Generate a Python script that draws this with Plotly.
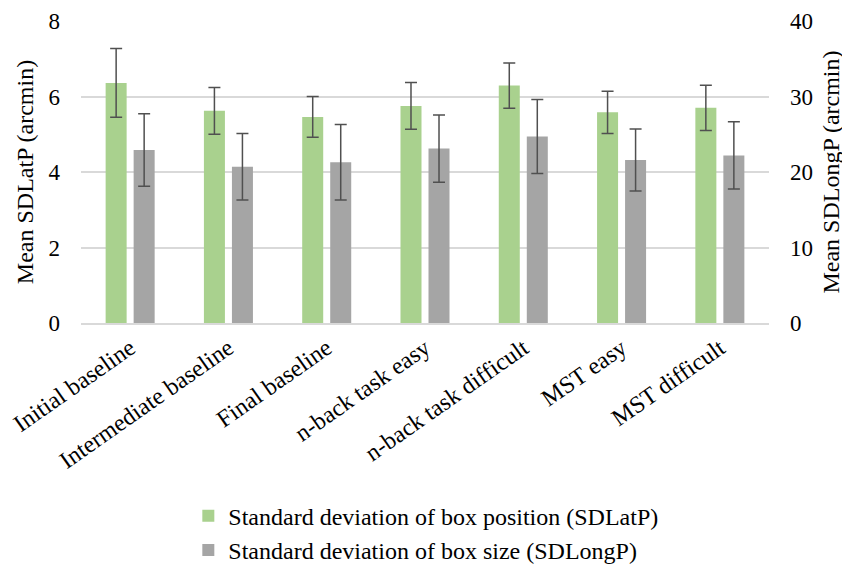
import plotly.graph_objects as go

categories = ["Initial baseline", "Intermediate baseline", "Final baseline",
              "n-back task easy", "n-back task difficult", "MST easy", "MST difficult"]
sdlatp = [6.36, 5.62, 5.46, 5.75, 6.29, 5.58, 5.70]
sdlatp_err = [0.91, 0.62, 0.54, 0.62, 0.60, 0.56, 0.60]
sdlongp = [22.9, 20.7, 21.3, 23.1, 24.7, 21.6, 22.2]
sdlongp_err = [4.8, 4.4, 5.0, 4.45, 4.9, 4.1, 4.45]

FONT = "Liberation Serif"
ERR_COLOR = "#505050"

fig = go.Figure()
fig.add_trace(go.Bar(
    x=categories, y=sdlatp, name="Standard deviation of box position (SDLatP)",
    marker=dict(color="#A9D18E", line=dict(width=0)), offsetgroup="1",
    legendgroup="a",
    error_y=dict(type="data", array=sdlatp_err, color=ERR_COLOR, thickness=1.5, width=6),
    yaxis="y",
))
fig.add_trace(go.Bar(
    x=categories, y=sdlongp, name="Standard deviation of box size (SDLongP)",
    marker=dict(color="#A5A5A5", line=dict(width=0)), offsetgroup="2",
    legendgroup="b",
    error_y=dict(type="data", array=sdlongp_err, color=ERR_COLOR, thickness=1.5, width=6),
    yaxis="y2",
))

fig.update_layout(
    width=842, height=568,
    margin=dict(l=73, r=81, t=13, b=253, autoexpand=False),
    plot_bgcolor="white", paper_bgcolor="white",
    font=dict(family=FONT, size=24, color="#000000"),
    barmode="group", bargap=0.43, bargroupgap=0.25,
    showlegend=True,
    legend=dict(orientation="v", x=0.156, xanchor="left", y=0.145, yanchor="top",
                yref="container", traceorder="grouped", tracegroupgap=0,
                font=dict(family=FONT, size=24), itemwidth=30),
    xaxis=dict(tickangle=-35, showgrid=False, showline=True, linecolor="#D9D9D9",
               linewidth=1.5, ticks="", automargin=False, tickfont=dict(family=FONT, size=24)),
    yaxis=dict(range=[0, 8], dtick=2, showgrid=True, gridcolor="#D9D9D9", gridwidth=1.5,
               zeroline=False, showline=False, ticks="", ticklabelstandoff=20, automargin=False,
               tickfont=dict(family=FONT, size=23),
               title=dict(text="Mean SDLatP (arcmin)", font=dict(family=FONT, size=24), standoff=8)),
    yaxis2=dict(range=[0, 40], dtick=10, overlaying="y", side="right", showgrid=False,
                zeroline=False, showline=False, ticks="", ticklabelstandoff=20, automargin=False,
                tickfont=dict(family=FONT, size=23),
                title=dict(text="Mean SDLongP (arcmin)", font=dict(family=FONT, size=24), standoff=10)),
)

fig.write_html("out.html")
